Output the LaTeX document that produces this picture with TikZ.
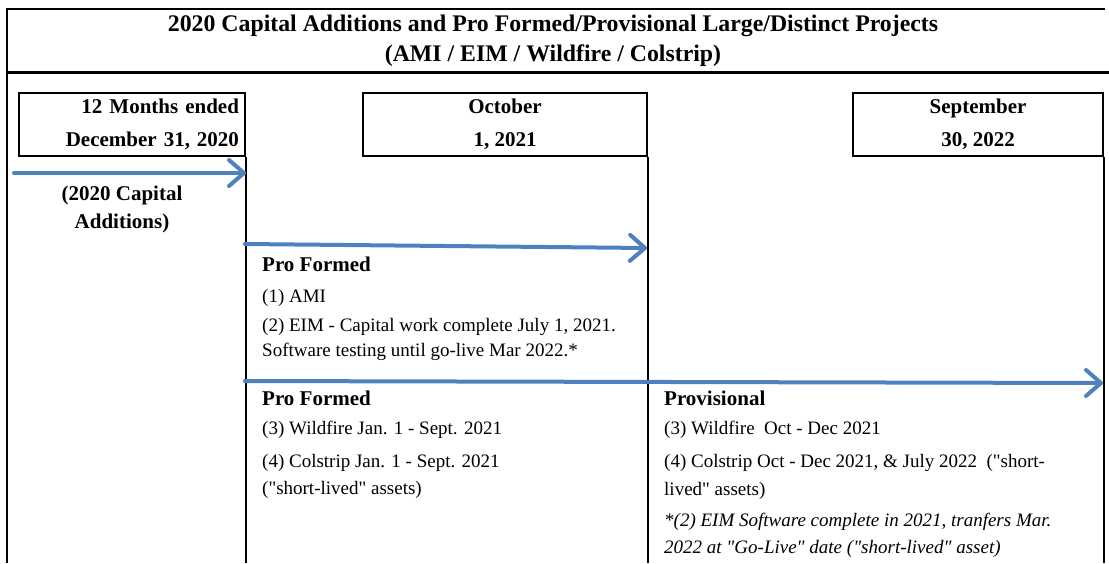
\documentclass[tikz,border=0pt]{standalone}
\usepackage{fontspec}
\setmainfont{Liberation Serif}[Ligatures=TeXOff]
\usetikzlibrary{arrows.meta,positioning}
\definecolor{arrowblue}{RGB}{79,129,189}

\begin{document}
\begin{tikzpicture}[
    x=1pt, y=-1pt,
    frame/.style={draw=black, line width=1.5pt},
    datebox/.style={rectangle, draw=black, line width=2pt, minimum height=63pt,
                    inner sep=5pt, align=center,
                    font=\bfseries\fontsize{21}{33}\selectfont},
    titletext/.style={inner sep=0pt, align=center,
                      font=\bfseries\fontsize{23.8}{30}\selectfont},
    capitaltext/.style={inner sep=0pt, align=center,
                        font=\bfseries\fontsize{21}{28}\selectfont},
    headtext/.style={anchor=base west, inner sep=0pt,
                     font=\bfseries\fontsize{21}{26}\selectfont},
    bodytext/.style={anchor=base west, inner sep=0pt, align=left,
                     font=\fontsize{19}{26}\selectfont},
    notetext/.style={anchor=base west, inner sep=0pt, align=left,
                     font=\itshape\fontsize{19}{27}\selectfont},
    arr/.style={-{Straight Barb[length=15pt,width=26pt,round]}, line width=4pt,
                draw=arrowblue, line cap=round}
]
\useasboundingbox (0,0) rectangle (1109,563);

% Frame and title
\coordinate (tl) at (7,9);
\coordinate (tr) at (1105,9);
\coordinate (bl) at (7,563);
\coordinate (hl) at (7,72);
\coordinate (hr) at (1109,72);
\draw[frame] (tr) -- (tl) -- (bl);
\draw[black, line width=3pt] (hl) -- (hr);
\node[titletext] (title) at (553,40.5) {2020 Capital Additions and Pro Formed/Provisional Large/Distinct Projects\\(AMI / EIM / Wildfire / Colstrip)};

% Date boxes
\node[datebox, minimum width=226pt, text width=214pt, align=right] (dec) at (132,124.5) {12 Months ended\\December 31, 2020};
\node[datebox, minimum width=284pt] (oct) at (505,124.5) {October\\1, 2021};
\node[datebox, minimum width=250pt] (sep) at (978,124.5) {September\\30, 2022};

% Period lines
\draw[frame] (dec.south east) -- (dec.south east |- bl);
\draw[frame] (oct.south east) -- (oct.south east |- bl);
\draw[frame] (sep.south east) -- (sep.south east |- bl);

% Arrows
\coordinate (a1s) at (14,173);
\coordinate (a2s) at (245,244);
\coordinate (a2e) at (647,248);
\coordinate (a3s) at (245,381);
\coordinate (a3e) at (1103,383);
\draw[arr] (a1s) -- (a1s -| dec.east);
\draw[arr] (a2s) -- (a2e);
\draw[arr] (a3s) -- (a3e);

% Texts (multi-line nodes sit on their last baseline)
\node[capitaltext] (capadd) at (122,209) {(2020 Capital\\Additions)};

\node[headtext] (pf1) at (262,271) {Pro Formed};
\node[bodytext] (ami) at (262,302) {(1) AMI};
\node[bodytext, font=\fontsize{19}{25}\selectfont] (eim) at (262,356) {(2) EIM - Capital work complete July 1, 2021.\\Software testing until go-live Mar 2022.*};

\node[headtext] (pf2) at (262,405) {Pro Formed};
\node[bodytext] (wf1) at (262,434) {(3) Wildfire Jan. 1 - Sept. 2021};
\node[bodytext, font=\fontsize{19}{27}\selectfont] (cs1) at (262,494) {(4) Colstrip Jan. 1 - Sept. 2021\\("short-lived" assets)};

\node[headtext] (prov) at (664,405) {Provisional};
\node[bodytext] (wf2) at (664,434) {(3) Wildfire\ \ Oct - Dec 2021};
\node[bodytext, font=\fontsize{19}{28}\selectfont] (cs2) at (664,495) {(4) Colstrip Oct - Dec 2021, \& July 2022\ \ ("short-\\lived" assets)};
\node[notetext] (note) at (664,553) {*(2) EIM Software complete in 2021, tranfers Mar.\\2022 at "Go-Live" date ("short-lived" asset)};
\end{tikzpicture}
\end{document}
